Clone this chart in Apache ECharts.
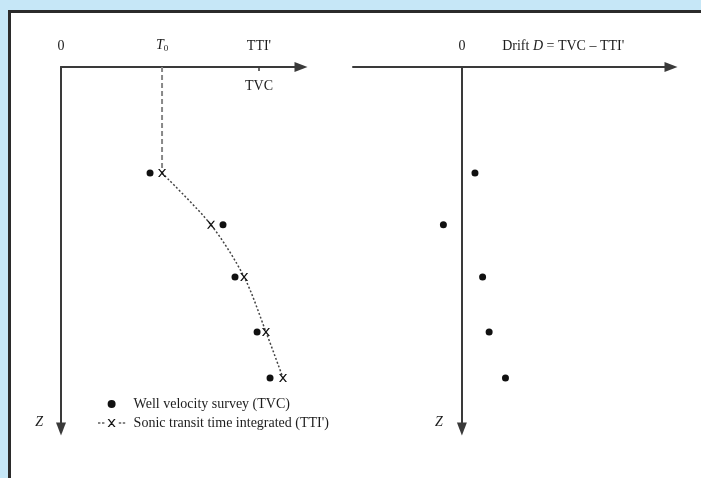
<!DOCTYPE html>
<html>
<head>
<meta charset="utf-8">
<script src="https://cdn.jsdelivr.net/npm/echarts@6/dist/echarts.min.js"></script>
<style>
  html, body { margin: 0; padding: 0; background: #c6e7f7; }
  #container { width: 701px; height: 478px; }
</style>
</head>
<body>
<div id="container"></div>
<script>
var dom = document.getElementById('container');
var myChart = echarts.init(dom, null, { renderer: 'canvas' });

// depth of the survey levels (m)
var depths = [293, 436, 580, 732, 859];
// well velocity survey times (ms)
var tvc = [371, 675, 725, 817, 871];
// sonic integrated times (ms)
var tti = [421, 625, 763, 854, 925];
// drift D = TVC - TTI' as drawn on the right panel
var drift = [12, -17, 19, 25, 40];

var t0 = 421;       // T0 value on time axis
var ttiTick = 825;  // position of the TTI' / TVC tick
var driftLabelAt = 93; // where the drift axis caption sits

var timeMax = 1000;
var depthMax = 1000;
var driftMin = -100, driftMax = 192;

var serif = 'Liberation Serif';
var ink = '#1c1c1c';
var axisCol = '#3a3a3a';
var xMark = 'path://M0,0 L2,0 L10,10 L8,10 Z M8,0 L10,0 L2,10 L0,10 Z';
var legendTTI = 'path://M0,4.4 h3 v1.2 h-3 Z M5,4.4 h3 v1.2 h-3 Z M12,0 L14,0 L22,10 L20,10 Z M20,0 L22,0 L14,10 L12,10 Z M26,4.4 h3 v1.2 h-3 Z M31,4.4 h3 v1.2 h-3 Z';

var option = {
  backgroundColor: '#c6e7f7',
  animation: false,
  graphic: [{
    type: 'rect',
    z: -10,
    shape: { x: 9.5, y: 11.5, width: 700, height: 480 },
    style: { fill: '#fff', stroke: '#2b2b2b', lineWidth: 3 }
  }],
  textStyle: { fontFamily: serif, color: ink },
  legend: {
    orient: 'vertical',
    left: 93,
    top: 392,
    itemWidth: 34,
    itemHeight: 8,
    itemGap: 5,
    textStyle: { fontFamily: serif, fontSize: 14, color: ink },
    data: [
      { name: 'Well velocity survey (TVC)', icon: 'circle' },
      { name: "Sonic transit time integrated (TTI')", icon: legendTTI }
    ]
  },
  grid: [
    { left: 61, top: 67, width: 240, height: 362 },
    { left: 353, top: 67, width: 318, height: 362 }
  ],
  xAxis: [
    {
      gridIndex: 0, type: 'value', position: 'top', min: 0, max: timeMax,
      splitLine: { show: false },
      axisLine: { lineStyle: { color: axisCol, width: 2 }, symbol: ['none', 'triangle'], symbolSize: [10, 13] },
      axisTick: { show: false },
      axisLabel: {
        customValues: [0, t0, ttiTick], margin: 14, fontSize: 14, color: ink,
        fontFamily: serif,
        formatter: function (v) {
          if (v === 0) return '0';
          if (v === t0) return '{i|T}{s|0}';
          return "TTI'";
        },
        rich: {
          i: { fontStyle: 'italic', fontSize: 14, fontFamily: serif, color: ink },
          s: { fontSize: 9, fontFamily: serif, color: ink, verticalAlign: 'bottom', padding: [6, 0, 0, 0] }
        }
      }
    },
    {
      gridIndex: 0, type: 'value', position: 'top', min: 0, max: timeMax,
      splitLine: { show: false },
      axisLine: { show: false },
      axisTick: { show: true, inside: true, length: 4, customValues: [ttiTick], lineStyle: { color: axisCol, width: 1.5 } },
      axisLabel: {
        inside: true, customValues: [ttiTick], margin: 12, fontSize: 14, color: ink, fontFamily: serif,
        formatter: function () { return 'TVC'; }
      }
    },
    {
      gridIndex: 1, type: 'value', position: 'top', min: driftMin, max: driftMax,
      splitLine: { show: false },
      axisLine: { lineStyle: { color: axisCol, width: 2 }, symbol: ['none', 'triangle'], symbolSize: [10, 13] },
      axisTick: { show: false },
      axisLabel: {
        customValues: [0, driftLabelAt], margin: 14, fontSize: 14, color: ink, fontFamily: serif,
        formatter: function (v) {
          if (v === 0) return '0';
          return 'Drift {i|D} = TVC \u2013 TTI\'';
        },
        rich: { i: { fontStyle: 'italic', fontSize: 14, fontFamily: serif, color: ink } }
      }
    }
  ],
  yAxis: [
    {
      gridIndex: 0, type: 'value', inverse: true, min: 0, max: depthMax,
      splitLine: { show: false },
      axisLine: { lineStyle: { color: axisCol, width: 2 }, symbol: ['triangle', 'none'], symbolSize: [10, 13] },
      axisTick: { show: false },
      axisLabel: {
        customValues: [depthMax], margin: 18, fontSize: 14, fontStyle: 'italic', color: ink, fontFamily: serif,
        verticalAlign: 'bottom',
        formatter: function () { return 'Z'; }
      }
    },
    {
      gridIndex: 1, type: 'value', inverse: true, min: 0, max: depthMax,
      splitLine: { show: false },
      axisLine: { onZero: true, lineStyle: { color: axisCol, width: 2 }, symbol: ['triangle', 'none'], symbolSize: [10, 13] },
      axisTick: { show: false },
      axisLabel: {
        inside: true, customValues: [depthMax], margin: 82, fontSize: 14, fontStyle: 'italic', color: ink, fontFamily: serif,
        verticalAlign: 'bottom',
        formatter: function () { return 'Z'; }
      }
    }
  ],
  series: [
    {
      name: 'T0 guide', type: 'line', xAxisIndex: 0, yAxisIndex: 0,
      symbol: 'none', silent: true,
      lineStyle: { color: '#888', width: 2, type: [5, 3] },
      data: [[t0, 0], [t0, depths[0]]]
    },
    {
      name: "Sonic transit time integrated (TTI')", type: 'line', xAxisIndex: 0, yAxisIndex: 0,
      smooth: 0.3, symbol: xMark, symbolSize: 8, showSymbol: true,
      itemStyle: { color: '#111', opacity: 1 },
      lineStyle: { color: '#444', width: 1.5, type: [2, 2] },
      data: tti.map(function (t, i) { return [t, depths[i]]; })
    },
    {
      name: 'Well velocity survey (TVC)', type: 'scatter', xAxisIndex: 0, yAxisIndex: 0,
      symbol: 'circle', symbolSize: 7,
      itemStyle: { color: '#111', opacity: 1 },
      data: tvc.map(function (t, i) { return [t, depths[i]]; })
    },
    {
      name: 'Drift', type: 'scatter', xAxisIndex: 2, yAxisIndex: 1,
      symbol: 'circle', symbolSize: 7,
      itemStyle: { color: '#111', opacity: 1 },
      data: drift.map(function (d, i) { return [d, depths[i]]; })
    }
  ]
};

myChart.setOption(option);
window.addEventListener('resize', myChart.resize);
</script>
</body>
</html>
